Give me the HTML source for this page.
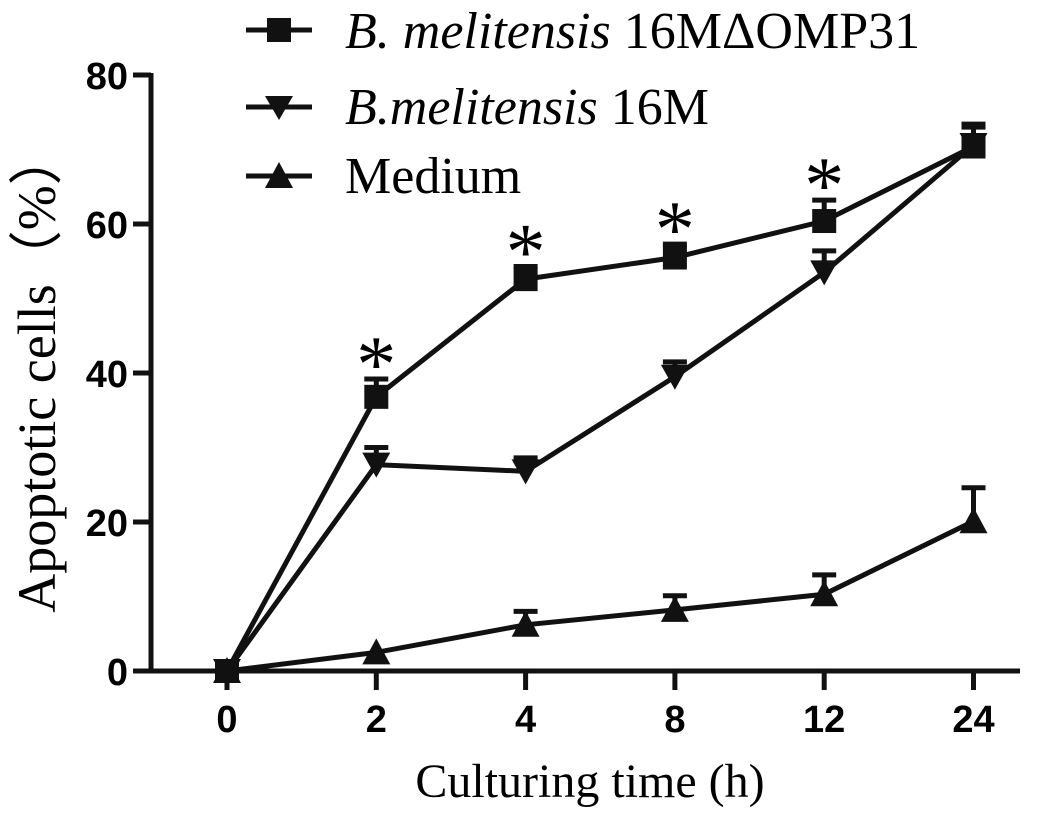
<!DOCTYPE html>
<html><head><meta charset="utf-8"><style>
html,body{margin:0;padding:0;background:#fff;}
svg{display:block;}
.tk{font-family:"Liberation Sans",Arial,sans-serif;font-weight:bold;font-size:38px;}
.sr{font-family:"Liberation Serif","Times New Roman",serif;font-size:52px;}
.ti{font-family:"Liberation Serif","Times New Roman",serif;font-size:48px;}
</style></head><body>
<svg id="chart" width="1063" height="824" viewBox="0 0 1063 824" xmlns="http://www.w3.org/2000/svg">
<g id="axes"></g>
<g id="series"></g>
<g id="legend">
  <line x1="246" y1="30" x2="312" y2="30" stroke="#111" stroke-width="5"/>
  <rect x="267" y="18" width="24" height="24" fill="#111"/>
  <text x="345" y="48" class="sr"><tspan font-style="italic">B. melitensis</tspan> 16MΔOMP31</text>
  <line x1="246" y1="107" x2="312" y2="107" stroke="#111" stroke-width="5"/>
  <polygon points="265,96 293,96 279,120" fill="#111"/>
  <text x="345" y="124" class="sr"><tspan font-style="italic">B.melitensis</tspan> 16M</text>
  <line x1="246" y1="176" x2="312" y2="176" stroke="#111" stroke-width="5"/>
  <polygon points="279,162 293,188 265,188" fill="#111"/>
  <text x="345" y="193" class="sr">Medium</text>
</g>
<text class="ti" transform="translate(55,372) rotate(-90)" text-anchor="middle" font-size="54" style="font-size:54px">Apoptotic cells（%）</text>
<text class="ti" x="590" y="797" text-anchor="middle">Culturing time (h)</text>
</svg>
<script>
const categories = ["0","2","4","8","12","24"];
const yTicks = [0,20,40,60,80];
const omp31 = [0,36.8,52.6,55.5,60.4,70.4];
const omp31Err = [0,2.4,1.7,1.8,2.8,2.6];
const m16 = [0,27.7,26.8,39.5,53.5,70.6];
const m16Err = [0,2.3,1.8,2.0,2.9,2.8];
const medium = [0,2.5,6.2,8.2,10.3,20.1];
const mediumErr = [0,0,1.8,1.9,2.6,4.5];
const starIdx = [1,2,3,4];

const NS="http://www.w3.org/2000/svg";
const X0=227, DX=149.3, Y0=671, PPU=7.45;
function xs(i){return X0+i*DX;}
function ys(v){return Y0-v*PPU;}
function mk(tag,attrs,parent){const e=document.createElementNS(NS,tag);for(const k in attrs)e.setAttribute(k,attrs[k]);parent.appendChild(e);return e;}
const axes=document.getElementById('axes'), ser=document.getElementById('series');

let e=mk('line',{x1:151,y1:ys(80)-2,x2:151,y2:Y0+2,stroke:'#111','stroke-width':5},axes);


e=mk('line',{x1:133,y1:Y0,x2:1020,y2:Y0,stroke:'#111','stroke-width':5},axes);


yTicks.forEach(t=>{
  const tl=mk('line',{x1:133,y1:ys(t),x2:151,y2:ys(t),stroke:'#111','stroke-width':5},axes);
  
  
  const tx=mk('text',{x:128,y:ys(t)+14,'text-anchor':'end',class:'tk'},axes);
  tx.textContent=t;
  
  
});
categories.forEach((c,i)=>{
  const tl=mk('line',{x1:xs(i),y1:Y0,x2:xs(i),y2:Y0+19,stroke:'#111','stroke-width':5},axes);
  
  
  const tx=mk('text',{x:xs(i),y:732,'text-anchor':'middle',class:'tk'},axes);
  tx.textContent=c;
  
  
});

function drawSeries(vals,errs,shape,name){
  const g=mk('g',{},ser);
  
  
  vals.forEach((v,i)=>{
    if(errs[i]>0){
      const top=ys(v+errs[i]);
      const b=mk('path',{d:`M${xs(i)},${ys(v)} V${top} M${xs(i)-12},${top} H${xs(i)+12}`,stroke:'#111','stroke-width':5,fill:'none'},g);
      
      
    }
  });
  const ln=mk('polyline',{points:vals.map((v,i)=>xs(i)+','+ys(v)).join(' '),stroke:'#111','stroke-width':5,fill:'none'},g);
  
  
  vals.forEach((v,i)=>{
    const x=xs(i),y=ys(v);let m;
    if(shape==='sq') m=mk('rect',{x:x-12,y:y-12,width:24,height:24,fill:'#111'},g);
    else if(shape==='down') m=mk('polygon',{points:`${x-14},${y-12} ${x+14},${y-12} ${x},${y+13}`,fill:'#111'},g);
    else m=mk('polygon',{points:`${x},${y-14} ${x+14},${y+12} ${x-14},${y+12}`,fill:'#111'},g);
    
    
  });
}
drawSeries(medium,mediumErr,'up','medium');
drawSeries(m16,m16Err,'down','b-melitensis-16m');
drawSeries(omp31,omp31Err,'sq','b-melitensis-omp31');
starIdx.forEach(i=>{
  const t=mk('text',{x:xs(i),y:ys(omp31[i]+omp31Err[i])+12,'text-anchor':'middle','font-family':'Liberation Serif, serif','font-size':'80'},ser);
  t.textContent='*';
  
  
});
</script>
</body></html>
